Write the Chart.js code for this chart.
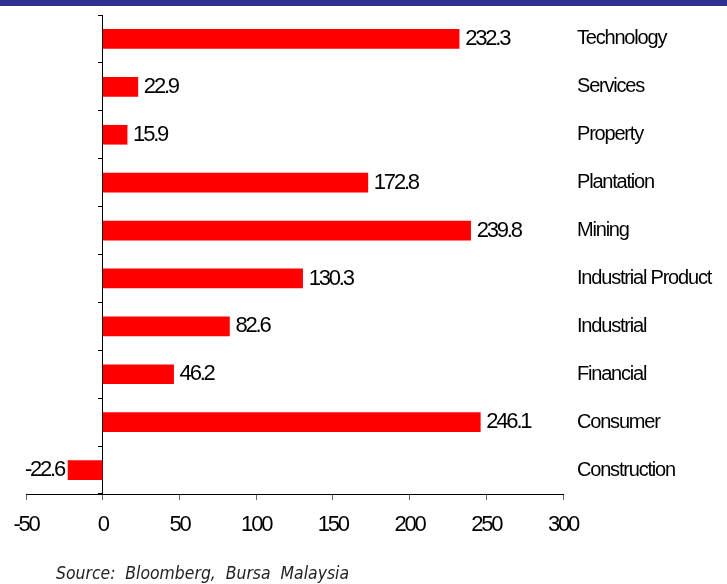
<!DOCTYPE html>
<html>
<head>
<meta charset="utf-8">
<script src="https://cdn.jsdelivr.net/npm/chart.js@4.4.1/dist/chart.umd.min.js"></script>
<style>
  html, body { margin: 0; padding: 0; background: #fff; }
  #wrap { position: relative; width: 727px; height: 584px; overflow: hidden; }
  #band { position: absolute; left: 0; top: 0; width: 727px; height: 6px; background: #2E3192; }
  #source {
    position: absolute; left: 56px; top: 562px; white-space: pre;
    font-family: "DejaVu Sans", sans-serif; font-style: italic; font-size: 18px;
    color: #222; transform: scaleX(0.87); transform-origin: left top;
  }
</style>
</head>
<body>
<div id="wrap">
  <canvas id="myChart" width="727" height="584"></canvas>
  <div id="band"></div>
  <div id="source">Source:  Bloomberg,  Bursa  Malaysia</div>
</div>
<script>
// sector performance, top to bottom as in the picture
const categories = ['Technology', 'Services', 'Property', 'Plantation', 'Mining',
    'Industrial Product', 'Industrial', 'Financial', 'Consumer', 'Construction'];
const changes = [232.3, 22.9, 15.9, 172.8, 239.8, 130.3, 82.6, 46.2, 246.1, -22.6];
const xTicks = [-50, 0, 50, 100, 150, 200, 250, 300];

const fontFamily = '"Liberation Sans", Arial, sans-serif';
const numFont = { family: fontFamily, size: 22 };
const catFont = { family: fontFamily, size: 20 };

// the source picture uses a very tight face, so squeeze canvas text a bit
const tightText = {
    id: 'tightText',
    beforeLayout(chart) { chart.ctx.letterSpacing = '-2.2px'; },
    beforeDraw(chart) { chart.ctx.letterSpacing = '-2.2px'; },
    afterDatasetsDraw(chart) {
        // value labels next to the end of each bar
        const ctx = chart.ctx;
        const meta = chart.getDatasetMeta(0);
        ctx.save();
        ctx.font = numFont.size + 'px ' + numFont.family;
        ctx.fillStyle = '#000';
        ctx.textBaseline = 'middle';
        meta.data.forEach(function (bar, i) {
            const v = changes[i];
            if (v >= 0) {
                ctx.textAlign = 'left';
                ctx.fillText(v.toFixed(1), bar.x + 6, bar.y);
            } else {
                ctx.textAlign = 'right';
                ctx.fillText(v.toFixed(1), bar.x - 4, bar.y);
            }
        });
        ctx.restore();
        // category labels (drawn after datasets, z: 1) are a little looser
        ctx.letterSpacing = '-1.2px';
    }
};

const ctx = document.getElementById('myChart').getContext('2d');
const myChart = new Chart(ctx, {
    type: 'bar',
    data: {
        labels: categories,
        datasets: [{
            data: changes,
            backgroundColor: '#FF0000',
            borderWidth: 0,
            barThickness: 19,
            yAxisID: 'y'
        }]
    },
    options: {
        indexAxis: 'y',
        responsive: false,
        animation: false,
        layout: { padding: { left: 26, right: 0, top: 15, bottom: 50 } },
        plugins: {
            legend: { display: false },
            tooltip: { enabled: false }
        },
        scales: {
            x: {
                min: -50,
                max: 300,
                afterBuildTicks(scale) {
                    scale.ticks = xTicks.map(v => ({ value: v }));
                },
                afterFit(scale) { scale.height = 40; },
                grid: { drawOnChartArea: false, tickLength: 6, color: '#666' },
                border: { color: '#000', width: 1 },
                ticks: { color: '#000', font: numFont, padding: 12, maxRotation: 0 }
            },
            y: {
                position: { x: 0 },
                offset: true,
                afterFit(scale) { scale.paddingTop = 0; scale.paddingBottom = 0; },
                grid: { offset: true, drawOnChartArea: false, tickLength: 4, color: '#000' },
                border: { color: '#000', width: 1 },
                ticks: { display: false }
            },
            y2: {
                type: 'category',
                labels: categories,
                position: 'right',
                offset: true,
                afterFit(scale) {
                    scale.width = 164;
                    scale.paddingTop = 0;
                    scale.paddingBottom = 0;
                },
                grid: { display: false },
                border: { display: false },
                ticks: { color: '#000', font: catFont, padding: 6, z: 1 }
            }
        }
    },
    plugins: [tightText]
});
</script>
</body>
</html>
